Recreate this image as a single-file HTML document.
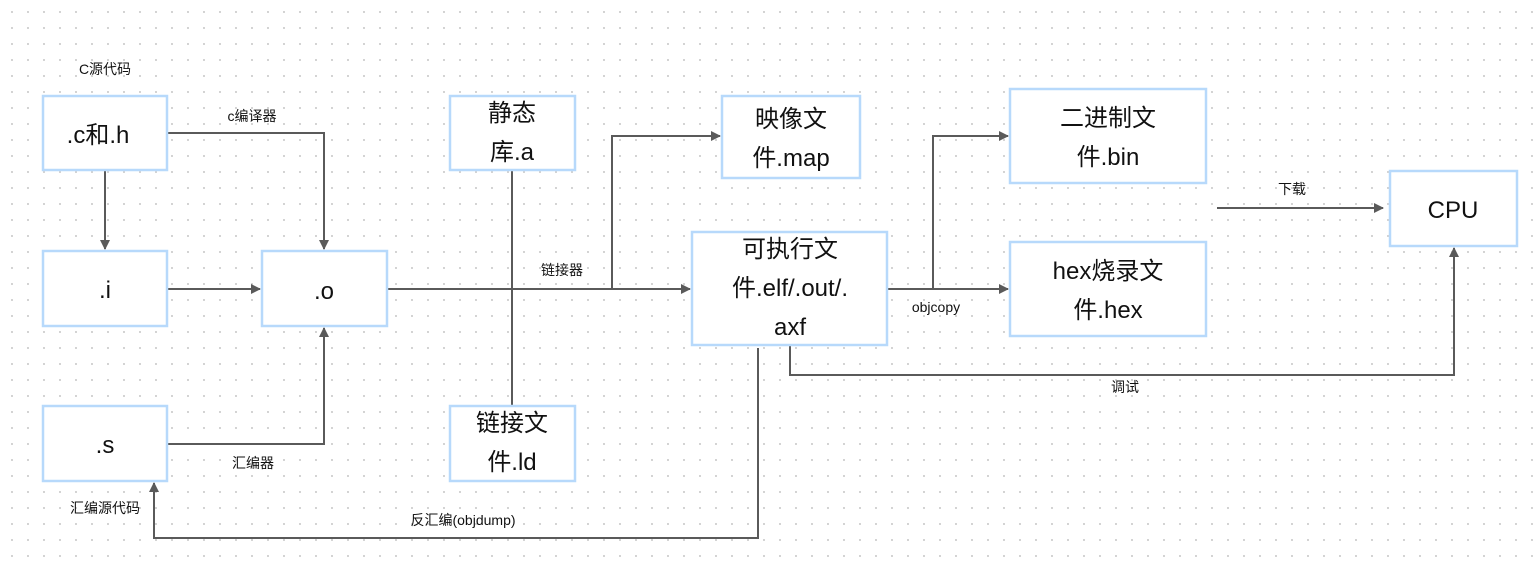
<!DOCTYPE html>
<html><head><meta charset="utf-8"><style>
body{margin:0;width:1534px;height:562px;overflow:hidden;background:#fff;
background-image:radial-gradient(circle,#d0d0d0 1px,transparent 1.2px);background-size:16px 16px;background-position:4px 4px;}
svg{position:absolute;left:0;top:0}
text{font-family:"Liberation Sans","Noto Sans CJK SC",sans-serif;fill:#111}
.b{font-size:24px;text-anchor:middle}
.l{font-size:14px;text-anchor:middle}
rect{fill:#fff;stroke:#b7d9fb;stroke-width:2.5}
.c{fill:none;stroke:#5a5a5a;stroke-width:2}
</style></head><body>
<svg width="1534" height="562">
<defs><marker id="a" markerWidth="10" markerHeight="10" refX="9" refY="5" orient="auto" markerUnits="userSpaceOnUse"><path d="M0,0 L10,5 L0,10 z" fill="#5a5a5a"/></marker></defs>
<path class="c" d="M167,133 H324 V249" marker-end="url(#a)"/>
<path class="c" d="M105,170 V249" marker-end="url(#a)"/>
<path class="c" d="M167,289 H260" marker-end="url(#a)"/>
<path class="c" d="M167,444 H324 V328" marker-end="url(#a)"/>
<path class="c" d="M387,289 H690" marker-end="url(#a)"/>
<path class="c" d="M512,170 V406"/>
<path class="c" d="M612,289 V136 H720" marker-end="url(#a)"/>
<path class="c" d="M887,289 H1008" marker-end="url(#a)"/>
<path class="c" d="M933,289 V136 H1008" marker-end="url(#a)"/>
<path class="c" d="M1217,208 H1383" marker-end="url(#a)"/>
<path class="c" d="M790,345 V375 H1454 V248" marker-end="url(#a)"/>
<path class="c" d="M758,348 V538 H154 V483" marker-end="url(#a)"/>
<rect x="43" y="96" width="124" height="74"/>
<rect x="43" y="251" width="124" height="75"/>
<rect x="262" y="251" width="125" height="75"/>
<rect x="43" y="406" width="124" height="75"/>
<rect x="450" y="96" width="125" height="74"/>
<rect x="450" y="406" width="125" height="75"/>
<rect x="722" y="96" width="138" height="82"/>
<rect x="692" y="232" width="195" height="113"/>
<rect x="1010" y="89" width="196" height="94"/>
<rect x="1010" y="242" width="196" height="94"/>
<rect x="1390" y="171" width="127" height="75"/>
<text class="b" x="98" y="143">.c和.h</text>
<text class="b" x="105" y="298">.i</text>
<text class="b" x="324" y="299">.o</text>
<text class="b" x="105" y="453">.s</text>
<text class="b" x="512" y="121">静态</text>
<text class="b" x="512" y="160">库.a</text>
<text class="b" x="512" y="431">链接文</text>
<text class="b" x="512" y="470">件.ld</text>
<text class="b" x="791" y="127">映像文</text>
<text class="b" x="791" y="166">件.map</text>
<text class="b" x="790" y="257">可执行文</text>
<text class="b" x="790" y="296">件.elf/.out/.</text>
<text class="b" x="790" y="335">axf</text>
<text class="b" x="1108" y="126">二进制文</text>
<text class="b" x="1108" y="165">件.bin</text>
<text class="b" x="1108" y="279">hex烧录文</text>
<text class="b" x="1108" y="318">件.hex</text>
<text class="b" x="1453" y="218">CPU</text>
<text class="l" x="105" y="74">C源代码</text>
<text class="l" x="252" y="121">c编译器</text>
<text class="l" x="253" y="468">汇编器</text>
<text class="l" x="105" y="513">汇编源代码</text>
<text class="l" x="562" y="275">链接器</text>
<text class="l" x="936" y="312">objcopy</text>
<text class="l" x="1292" y="194">下载</text>
<text class="l" x="1125" y="392">调试</text>
<text class="l" x="463" y="525">反汇编(objdump)</text>
</svg>
</body></html>
